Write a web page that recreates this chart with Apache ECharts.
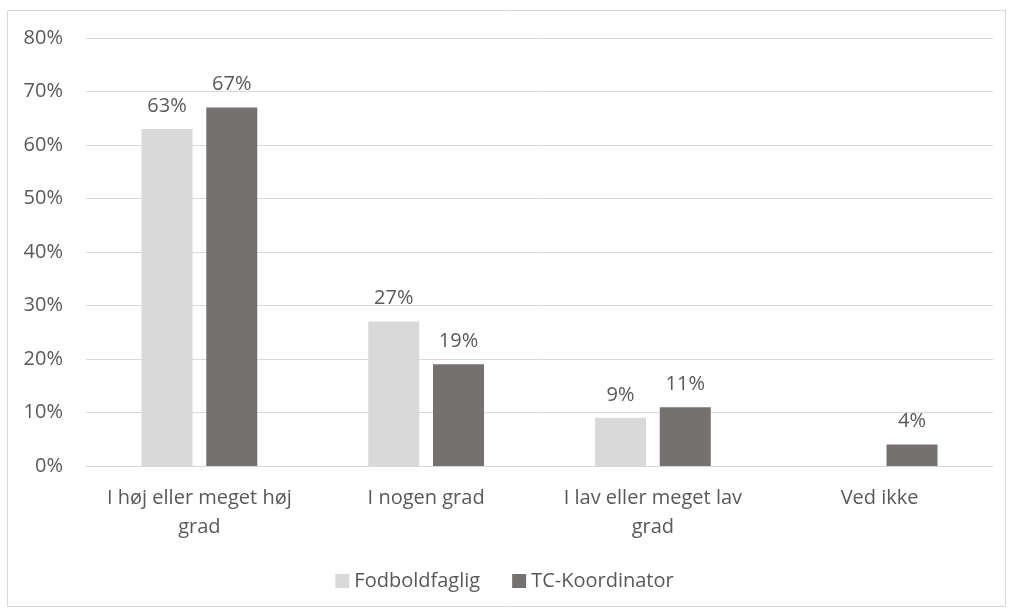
<!DOCTYPE html>
<html>
<head>
<meta charset="utf-8">
<script src="https://cdn.jsdelivr.net/npm/echarts@6/dist/echarts.min.js"></script>
<style>
  html, body { margin: 0; padding: 0; background: #fff; }
  #chart { width: 1009px; height: 611px; }
</style>
</head>
<body>
<div id="chart"></div>
<script>
// kategorier og værdier (procent)
const categories = ['I høj eller meget høj\ngrad', 'I nogen grad', 'I lav eller meget lav\ngrad', 'Ved ikke'];
const seriesNames = ['Fodboldfaglig', 'TC-Koordinator'];
const fodboldfaglig = [63, 27, 9, 0];
const tcKoordinator = [67, 19, 11, 4];
const yTicks = [0, 10, 20, 30, 40, 50, 60, 70, 80];

const textColor = '#595959';
const fontFamily = '"Open Sans", "Noto Sans", sans-serif';
const fontSize = 20;

const chart = echarts.init(document.getElementById('chart'));

function makeSeries (name, data, color) {
  return {
    name: name,
    type: 'bar',
    data: data,
    barWidth: '22.5%',
    barGap: '27%',
    itemStyle: { color: color },
    label: {
      show: true,
      position: 'top',
      distance: 13,
      color: textColor,
      fontSize: fontSize,
      fontFamily: fontFamily,
      formatter: p => (p.value ? p.value + '%' : ''), // skjul 0
    },
  };
}

const option = {
  animation: false,
  graphic: [{
    type: 'rect',
    left: 5,
    top: 8,
    shape: { width: 998, height: 596 },
    style: { fill: 'none', stroke: '#d9d9d9', lineWidth: 1 },
    silent: true,
  }],
  grid: { left: 86, right: 16, top: 38, bottom: 145 },
  legend: {
    top: 566,
    left: 'center',
    icon: 'rect',
    itemWidth: 14,
    itemHeight: 14,
    itemGap: 32,
    textStyle: { color: textColor, fontSize: fontSize, fontFamily: fontFamily },
    data: seriesNames,
  },
  xAxis: {
    type: 'category',
    data: categories,
    axisTick: { show: false },
    axisLine: { lineStyle: { color: '#d9d9d9', width: 1 } },
    axisLabel: {
      interval: 0,
      margin: 18,
      color: textColor,
      fontSize: fontSize,
      lineHeight: 29,
      fontFamily: fontFamily,
    },
  },
  yAxis: {
    type: 'value',
    min: yTicks[0],
    max: yTicks[yTicks.length - 1],
    interval: yTicks[1] - yTicks[0],
    axisLine: { show: false },
    axisTick: { show: false },
    splitLine: { lineStyle: { color: '#d9d9d9', width: 1 } },
    axisLabel: {
      margin: 23,
      color: textColor,
      fontSize: fontSize,
      fontFamily: fontFamily,
      formatter: '{value}%',
    },
  },
  series: [
    makeSeries(seriesNames[0], fodboldfaglig, '#d9d9d9'),
    makeSeries(seriesNames[1], tcKoordinator, '#767171'),
  ],
};

chart.setOption(option);
</script>
</body>
</html>
